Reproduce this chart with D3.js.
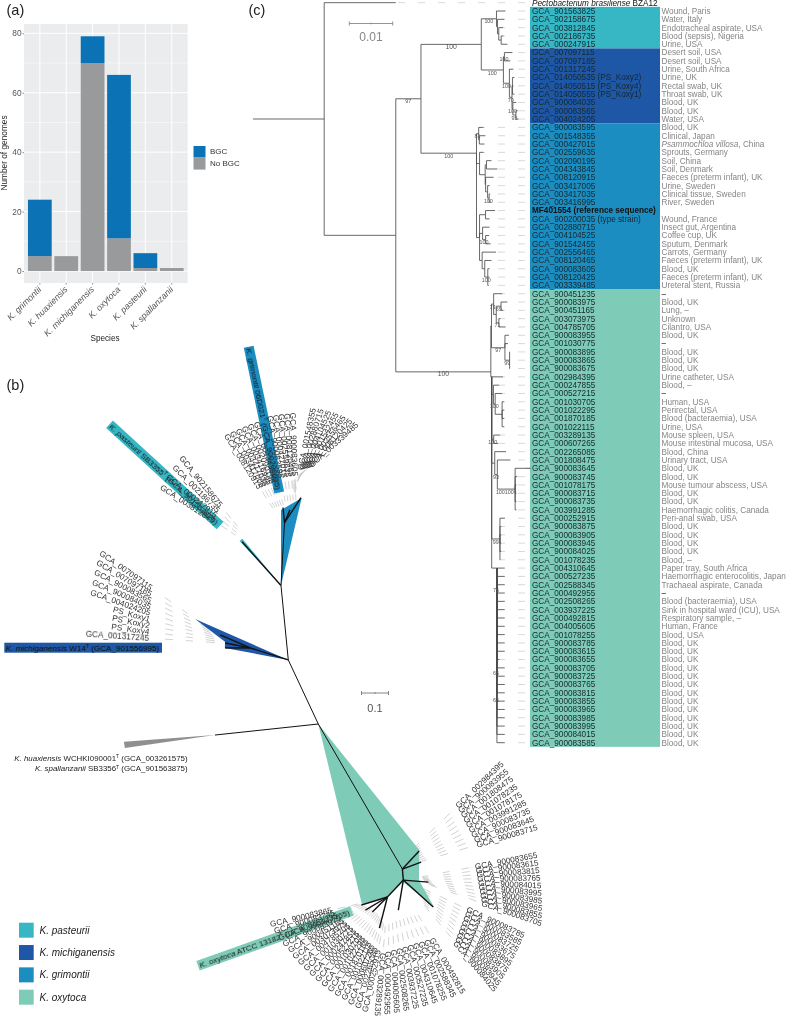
<!DOCTYPE html>
<html><head><meta charset="utf-8">
<script src="https://cdn.jsdelivr.net/npm/d3@7/dist/d3.min.js"></script>
<style>html,body{margin:0;padding:0;background:#fff}svg{display:block;font-family:"Liberation Sans",Arial,sans-serif;filter:blur(.4px)}</style>
</head><body><svg id="c" width="787" height="1021"></svg>
<script>
// ---------- Panel (a) data ----------
const species = ["K. grimontii","K. huaxiensis","K. michiganensis","K. oxytoca","K. pasteurii","K. spallanzanii"];
const noBgc = [5,5,70,11,1,1];
const bgc   = [19,0,9,55,5,0];
const yTicksA = [0,20,40,60,80];

// ---------- Panel (c) data: leaves in row order ----------
const pasteuriiIds = ["GCA_901563825","GCA_902158675","GCA_003812845","GCA_002186735","GCA_000247915"];
const michiganIds = ["GCA_007097115","GCA_007097185","GCA_001317245","GCA_014050535 (PS_Koxy2)","GCA_014050515 (PS_Koxy4)","GCA_014050555 (PS_Koxy1)","GCA_900084035","GCA_900083565","GCA_004024205"];
const grimontiiIds = ["GCA_900083595","GCA_001548355","GCA_000427015","GCA_002559635","GCA_002090195","GCA_004343845","GCA_008120915","GCA_003417005","GCA_003417035","GCA_003416995","MF401554 (reference sequence)","GCA_900200035 (type strain)","GCA_002880715","GCA_004104525","GCA_901542455","GCA_002556465","GCA_008120465","GCA_900083605","GCA_008120425","GCA_003339485"];
const oxytocaIds = ["GCA_900451235","GCA_900083975","GCA_900451165","GCA_003073975","GCA_004785705","GCA_900083955","GCA_001030775","GCA_900083895","GCA_900083865","GCA_900083675","GCA_002984395","GCA_000247855","GCA_000527215","GCA_001030705","GCA_001022295","GCA_001870185","GCA_001022115","GCA_003289135","GCA_000607265","GCA_002265085","GCA_001808475","GCA_900083645","GCA_900083745","GCA_001078175","GCA_900083715","GCA_900083735","GCA_003991285","GCA_000252915","GCA_900083875","GCA_900083905","GCA_900083945","GCA_900084025","GCA_001078235","GCA_004310645","GCA_000527235","GCA_002588345","GCA_000492955","GCA_002508265","GCA_003937225","GCA_000492815","GCA_004005605","GCA_001078255","GCA_900083785","GCA_900083615","GCA_900083655","GCA_900083705","GCA_900083725","GCA_900083765","GCA_900083815","GCA_900083855","GCA_900083965","GCA_900083985","GCA_900083995","GCA_900084015","GCA_900083585"];
const pasteuriiNotes = ["Wound, Paris","Water, Italy","Endotracheal aspirate, USA","Blood (sepsis), Nigeria","Urine, USA"];
const michiganNotes = ["Desert soil, USA","Desert soil, USA","Urine, South Africa","Urine, UK","Rectal swab, UK","Throat swab, UK","Blood, UK","Blood, UK","Water, USA"];
const grimontiiNotes = ["Blood, UK","Clinical, Japan","Psammochloa villosa|, China","Sprouts, Germany","Soil, China","Soil, Denmark","Faeces (preterm infant), UK","Urine, Sweden","Clinical tissue, Sweden","River, Sweden","","Wound, France","Insect gut, Argentina","Coffee cup, UK","Sputum, Denmark","Carrots, Germany","Faeces (preterm infant), UK","Blood, UK","Faeces (preterm infant), UK","Ureteral stent, Russia"];
const oxytocaNotes = ["–","Blood, UK","Lung, –","Unknown","Cilantro, USA","Blood, UK","–","Blood, UK","Blood, UK","Blood, UK","Urine catheter, USA","Blood, –","–","Human, USA","Perirectal, USA","Blood (bacteraemia), USA","Urine, USA","Mouse spleen, USA","Mouse intestinal mucosa, USA","Blood, China","Urinary tract, USA","Blood, UK","Blood, UK","Mouse tumour abscess, USA","Blood, UK","Blood, UK","Haemorrhagic colitis, Canada","Peri-anal swab, USA","Blood, UK","Blood, UK","Blood, UK","Blood, UK","Blood, –","Paper tray, South Africa","Haemorrhagic enterocolitis, Japan","Trachaeal aspirate, Canada","–","Blood (bacteraemia), USA","Sink in hospital ward (ICU), USA","Respiratory sample, –","Human, France","Blood, USA","Blood, UK","Blood, UK","Blood, UK","Blood, UK","Blood, UK","Blood, UK","Blood, UK","Blood, UK","Blood, UK","Blood, UK","Blood, UK","Blood, UK","Blood, UK"];

// Tree (c): [branch length x 0.001, support, children, anchorRow]; a leaf is [branch length]
const L = v => [v];
const pasteuriiClade = [3.5,"100",[L(2.07),[.23,"",[L(1.6),[.3,"",[L(1.0),[.55,"",[L(.55),L(1.45)]]]]]]]];
const michiganClade = [5.1,"100",[
  [.23,"100",[L(1.84),L(1.38)]],
  [1.38,"100",[L(.92),[.6,"70",[[.1,"",[L(.46),L(.23),L(.46)]],[.2,"100",[L(.8),[.7,"95",[L(.4),L(.6)]]]]]]]]]];
const grimontiiClade = [12.8,"100",[
  [.5,"81",[L(1.1),[.15,"",[L(1.4),L(1.15)]]]],
  [.7,"",[L(.92),[1.3,"",[[.3,"",[L(1.15),L(2.5)]],[.1,"",[L(1.84),[.46,"",[L(.46),[.35,"100",[L(.23),L(.35)]]]]]]]]]],
  [.7,"",[[1.38,"",[L(2.2),L(.92)]],[.7,"",[L(1.6),[.7,"100",[L(.8),L(1.15)]]]],[.6,"",[L(3.2),[.6,"",[L(1.55),[.7,"100",[L(.4),L(.4),L(.2)]]]]]]]]
 ],18.1];
const oxytocaUpper = [.15,"",[
  [.5,"73",[L(2.0),[.6,"",[[1.1,"69",[L(1.45),L(.55)]],[.6,"71",[L(.4),L(1.55)]]]]]],
  [3.1,"97",[L(.92),L(.7),[1.08,"99",[L(.07),L(.07),L(.07)]]]]]];
const oxytocaLowerRows = [1.8,1.8,1.8,1.8,1.8,1.8,1.8,1.8,1.8,1.8,1.8,.6,1.8,1.8,1.8,1.8,1.8,1.8,1.8,1.8,1.8,1.8];
const oxytocaLower = [.2,"",[
  L(2.6),
  [.4,"",[L(1.3),[.4,"100",[L(1.6),[1.6,"",[L(.46),L(.46),L(.46),L(.46)]]]]]],
  [.46,"100",[L(1.5),L(1.0)]],
  [.7,"",[L(2.6),[.6,"93",[L(3.0),[1.4,"100",[[2.7,"100",[L(3.6),L(.5),L(.3),L(.3),L(.3),L(.3)]]]]]]]],
  [1.9,"99",[L(1.15),L(.3),L(.3),L(.3),L(.3),L(.1)]],
  [1.2,"",oxytocaLowerRows.map(L),68]
 ],45];
const treeC = [0,"",[[16.4,"",[L(16.5),[16.5,"",[
  [5.8,"97",[[13.9,"100",[pasteuriiClade,michiganClade]],grimontiiClade]],
  [21.9,"100",[oxytocaUpper,oxytocaLower],44.4]]]]]]];
const extraSupportC = [["75",70.6],["65",80.6],["65",83.9]];

// ---------- Panel (b) data ----------
// unrooted tree nodes: [name, parent, angle (deg), branch length]
const nodesB = [["mich","root",-115.1,.262],["gp","mich",-95.6,.277],["oxy","root",59.9,.621],["oxy2","oxy",85,.041],["hs","root",173.9,.385],
 ["grim","gp",-86.8,.233],["g1","grim",-95.7,.056],["g2","grim",-67,.052],["g3","grim",-56.6,.111],["past","gp",-131.7,.217],
 ["m7","mich",-162.5,.148],["m1","m7",-168.7,.094],["m2","m7",180,.093],["m3","m7",-156.6,.121],
 ["o1","oxy",-47.1,.091],["o2","oxy",-20.5,.074],["o3","oxy2",4.6,.093],["o4","oxy2",42,.149],["o5","oxy2",99.5,.113],["o8","oxy2",133.3,.086],
 ["o6","o8",162.9,.101],["o7","o8",149.4,.095],["o9","o8",104.5,.119],["o10","o8",135,.079]];
// collapsed clades: apex node, colour key, outline as [angle, branch length] from apex
const cladesB = [
 ["root","oxytoca",[[51.3,.598],[57.2,.688],[57.7,.802],[61.8,.664],[68.3,.689],[76.4,.686]]],
 ["mich","michiganensis",[[-156.3,.377],[-163.9,.244],[-169.3,.239]]],
 ["gp","grimontii",[[-90,.28],[-76.7,.333]]],
 ["gp","pasteurii",[[-133,.225],[-129.5,.225]]],
 ["hs","outgroup",[[175.8,.338],[171.8,.337]]]];
const fansB = [
 {names:["GCA_007097115","GCA_007097185","GCA_900083565","GCA_900084035","GCA_004024205","PS_Koxy1","PS_Koxy2","PS_Koxy4","GCA_001317245"],from:[151.7,588.3,35],to:[149,638,4],anchor:"end",rings:[[16,24],[37,44],[57,66]]},
 {names:["GCA_008120915","GCA_003417005","GCA_003417035","GCA_003416995","GCA_002090195","GCA_004343845"],from:[260,488,57.6],to:[276,482,72],anchor:"end",rings:[[4,12],[18,24]]},
 {names:["GCA_900083595","GCA_000427015","GCA_002559635","GCA_008120465","GCA_900083605"],from:[281,478,80],to:[295,476,88],anchor:"end",rings:[[4,12],[18,24]]},
 {names:["GCA_001548355","GCA_002880715","GCA_004104525","GCA_901542455","GCA_002556465","GCA_008120425","GCA_003339485"],from:[300,470,-78],to:[310,466,-42],anchor:"start",rings:[[4,12],[18,24]]},
 {names:["GCA_902158675","GCA_002186735","GCA_000247915","GCA_003812845"],from:[221,506,51],to:[214,521,33],anchor:"end",rings:[[8,16],[20,26]]},
 {names:["GCA_002984395","GCA_900083955","GCA_001808475","GCA_001078235","GCA_001078175","GCA_003991285","GCA_900083735","GCA_900083645","GCA_900083715"],from:[456.7,806.7,-44],to:[476.7,845,-16.5],anchor:"start",rings:[[9,18],[30,38],[52,60]]},
 {names:["GCA_900083655","GCA_900083615","GCA_900083815","GCA_900083765","GCA_900084015","GCA_900083995","GCA_900083985","GCA_900083965","GCA_900083855","GCA_900083705"],from:[475,866.7,-10.7],to:[482,903,19],anchor:"start",rings:[[6,14],[26,33],[48,54]]},
 {names:["GCA_900083785","GCA_900083585","GCA_900083725","GCA_900083675","GCA_900083895","GCA_900083875","GCA_900083905","GCA_900083945","GCA_900084025"],from:[467,909,25],to:[455,942,50],anchor:"start",rings:[[6,14],[22,30],[40,48]]},
 {names:["GCA_003289135","GCA_000492955","GCA_004005605","GCA_002508265","GCA_003937225","GCA_000527235","GCA_004310645","GCA_001078255","GCA_002588345","GCA_000492815"],from:[383,953,95],to:[431.7,938.3,60],anchor:"start",rings:[[6,14],[20,27]]},
 {names:["GCA_900083865","GCA_900083745","GCA_900451235","GCA_900083975","GCA_900451165","GCA_003073975","GCA_004785705","GCA_001030775","GCA_000247855","GCA_000527215","GCA_001030705","GCA_001022295","GCA_001870185","GCA_001022115","GCA_000607265","GCA_002265085","GCA_000252915"],from:[331.7,910,-13],to:[378,950,-78],anchor:"end",rings:[[6,14],[20,27]]}
];
const highlightsB = [
 {key:"pasteurii",name:"K. pasteurii",strain:" SB3355",acc:" (GCA_901563825)",x:109.5,y:424.2,angle:42.5,len:150},
 {key:"grimontii",name:"K. grimontii",strain:" 06D021",acc:" (GCA_900200035)",x:248.7,y:346.7,angle:78.2,len:149},
 {key:"michiganensis",name:"K. michiganensis",strain:" W14",acc:" (GCA_901556995)",x:4.3,y:647.7,angle:0,len:157.7},
 {key:"oxytoca",name:"K. oxytoca",strain:" ATCC 13182",acc:" (GCA_900977765)",x:198,y:965.7,angle:-19.6,len:163.5}];
const outgroupLabels = [["K. huaxiensis"," WCHKI090001"," (GCA_003261575)"],["K. spallanzanii"," SB3356"," (GCA_901563875)"]];
const legendKeys = ["pasteurii","michiganensis","grimontii","oxytoca"];
const legendNames = ["K. pasteurii","K. michiganensis","K. grimontii","K. oxytoca"];

const color = {pasteurii:"#37b6c4",michiganensis:"#1e57a6",grimontii:"#1b8dc1",oxytoca:"#7ecbb7",outgroup:"#8f8f8f"};
const svg = d3.select("#c");
const font = "Liberation Sans";
const panelLabel = (t,x,y)=>svg.append("text").attr("x",x).attr("y",y).attr("font-size",14.5).attr("fill","#222").text(t);
panelLabel("(a)",6.5,15); panelLabel("(b)",6.5,390); panelLabel("(c)",248.5,15);

// ---------- Panel (a) ----------
(function(){
 const g = svg.append("g");
 const X0=24,X1=187.6,Y0=283,Ytop=24;
 const x = d3.scaleBand().domain(species).range([X0,X1]).paddingInner(.1).paddingOuter(.15);
 const y = d3.scaleLinear().domain([0,80]).range([271,33.3]);
 g.append("rect").attr("x",X0).attr("y",Ytop).attr("width",X1-X0).attr("height",Y0-Ytop).attr("fill","#ebecee");
 g.selectAll(".mn").data([10,30,50,70]).join("line").attr("class","mn").attr("x1",X0).attr("x2",X1).attr("y1",y).attr("y2",y).attr("stroke","#fff").attr("stroke-width",.5);
 g.selectAll(".mj").data(yTicksA).join("line").attr("class","mj").attr("x1",X0).attr("x2",X1).attr("y1",y).attr("y2",y).attr("stroke","#fff").attr("stroke-width",1);
 g.selectAll(".vg").data(species).join("line").attr("class","vg").attr("x1",d=>x(d)+x.bandwidth()/2).attr("x2",d=>x(d)+x.bandwidth()/2).attr("y1",Ytop).attr("y2",Y0).attr("stroke","#fff").attr("stroke-width",1);
 g.selectAll(".nb").data(species).join("rect").attr("class","nb").attr("x",d=>x(d)).attr("width",x.bandwidth())
  .attr("y",(d,i)=>y(noBgc[i])).attr("height",(d,i)=>y(0)-y(noBgc[i])).attr("fill","#999a9c");
 g.selectAll(".bb").data(species).join("rect").attr("class","bb").attr("x",d=>x(d)).attr("width",x.bandwidth())
  .attr("y",(d,i)=>y(noBgc[i]+bgc[i])).attr("height",(d,i)=>y(noBgc[i])-y(noBgc[i]+bgc[i])).attr("fill","#0b72b5");
 const ay = g.append("g").attr("transform",`translate(${X0},0)`).call(d3.axisLeft(y).tickValues(yTicksA).tickSize(1.5).tickPadding(1));
 ay.select(".domain").remove(); ay.selectAll("text").attr("font-size",8.3).attr("fill","#555").attr("font-family",font);
 ay.selectAll("line").attr("stroke","#444").attr("stroke-width",.6);
 const ax = g.append("g").attr("transform",`translate(0,${Y0})`).call(d3.axisBottom(x).tickSize(1.5).tickPadding(2));
 ax.select(".domain").remove(); ax.selectAll("line").attr("stroke","#444").attr("stroke-width",.6);
 ax.selectAll("text").attr("font-size",8.8).attr("font-style","italic").attr("fill","#555").attr("font-family",font)
   .attr("text-anchor","end").attr("dy",0).attr("y",0).attr("transform","translate(2,7) rotate(-45)");
 g.append("text").attr("x",105).attr("y",341).attr("text-anchor","middle").attr("font-size",8.2).attr("fill","#222").text("Species");
 g.append("text").attr("transform","translate(6.5,153) rotate(-90)").attr("text-anchor","middle").attr("font-size",8.3).attr("fill","#222").text("Number of genomes");
 [["BGC","#0b72b5"],["No BGC","#999a9c"]].forEach((d,i)=>{
  g.append("rect").attr("x",193.5).attr("y",146+i*12).attr("width",12).attr("height",11.6).attr("fill",d[1]);
  g.append("text").attr("x",210).attr("y",154+i*12).attr("font-size",8).attr("fill","#333").text(d[0]);
 });
})();

// ---------- Panel (c) ----------
(function(){
 const g = svg.append("g");
 const branch = d3.scaleLinear().domain([0,.01]).range([0,43.4]);
 const rowY = d3.scaleLinear().domain([1,89]).range([11,742.7]);
 const bandX=530, bandW=130;
 const groups=[["pasteurii",1,5],["michiganensis",6,14],["grimontii",15,34],["oxytoca",35,89]];
 const half=(rowY(2)-rowY(1))/2;
 g.selectAll(".band").data(groups).join("rect").attr("class","band").attr("x",bandX).attr("width",bandW)
  .attr("y",d=>rowY(d[1])-half).attr("height",d=>rowY(d[2])-rowY(d[1])+2*half).attr("fill",d=>color[d[0]]);
 const root = d3.hierarchy(treeC,d=>d[2]);
 root.eachBefore(n=>{n.px=(n.parent?n.parent.px:253)+branch(n.data[0]/1000);});
 root.leaves().forEach((n,i)=>{n.row=i;});
 root.eachAfter(n=>{ if(n.children){const c=n.children; n.row=n.data[3]!==undefined?n.data[3]:(c[0].row+c[c.length-1].row)/2;} n.py=rowY(n.row);});
 g.selectAll(".lead").data(root.leaves()).join("line").attr("class","lead").attr("x1",525).attr("x2",d=>d.px).attr("y1",d=>d.py).attr("y2",d=>d.py)
  .attr("stroke","#cfcfcf").attr("stroke-width",.8).attr("stroke-dasharray","7 13");
 g.selectAll(".link").data(root.links()).join("path").attr("class","link").attr("fill","none").attr("stroke","#4d4d4d").attr("stroke-width",.85)
  .attr("d",d=>`M${d.source.px},${d.source.py}V${d.target.py}H${d.target.px}`);
 const sup = root.descendants().filter(n=>n.data[1]);
 g.selectAll(".sup").data(sup).join("text").attr("class","sup").attr("text-anchor","middle")
  .attr("x",n=>(n.parent.px+n.px)/2).attr("y",n=>n.py+4.6).attr("font-size",n=>n.px-n.parent.px>60?6.8:5.4).attr("fill","#555").text(n=>n.data[1]);
 g.selectAll(".sup2").data(extraSupportC).join("text").attr("class","sup2").attr("x",496).attr("y",d=>rowY(d[1])+2).attr("text-anchor","middle").attr("font-size",5.4).attr("fill","#555").text(d=>d[0]);
 const ids=[...pasteuriiIds,...michiganIds,...grimontiiIds,...oxytocaIds];
 const notes=[...pasteuriiNotes,...michiganNotes,...grimontiiNotes,...oxytocaNotes];
 const top=g.append("text").attr("x",532).attr("y",rowY(0)+2.9).attr("font-size",8.2).attr("fill","#111");
 top.append("tspan").attr("font-style","italic").text("Pectobacterium brasiliense");
 top.append("tspan").text(" BZA12");
 g.selectAll(".id").data(ids).join("text").attr("class","id").attr("x",532).attr("y",(d,i)=>rowY(i+1)+2.9).attr("font-size",8.2)
  .attr("font-weight",d=>d.startsWith("MF")?"bold":"normal").attr("fill",d=>d.startsWith("MF")?"#111":"#16282f").text(d=>d);
 const nt=g.selectAll(".note").data(notes).join("text").attr("class","note").attr("x",661.5).attr("y",(d,i)=>rowY(i+1)+2.9).attr("font-size",8.2)
  .attr("fill",d=>d==="–"?"#222":"#858585");
 nt.each(function(d){const s=d3.select(this); const p=d.split("|");
  if(p.length>1){s.append("tspan").attr("font-style","italic").text(p[0]);s.append("tspan").text(p[1]);} else s.text(d);});
 const sx=349.3, sy=23.5, ex=sx+branch(.01);
 g.append("path").attr("fill","none").attr("stroke","#888").attr("stroke-width",.9)
  .attr("d",`M${sx},${sy-2}V${sy+2}M${sx},${sy}H${ex}M${ex},${sy-2}V${sy+2}M${(sx+ex)/2},${sy-.8}V${sy+.8}`);
 g.append("text").attr("x",(sx+ex)/2).attr("y",40.5).attr("text-anchor","middle").attr("font-size",12).attr("fill","#888").text("0.01");
})();

// ---------- Panel (b) ----------
(function(){
 const g = svg.append("g");
 const lenB = d3.scaleLinear().domain([0,.1]).range([0,27]);
 const rad=a=>a*Math.PI/180;
 const step=(p,a,l)=>[p[0]+lenB(l)*Math.cos(rad(a)),p[1]+lenB(l)*Math.sin(rad(a))];
 const pos={root:[318.3,724]};
 nodesB.forEach(n=>{pos[n[0]]=step(pos[n[1]],n[2],n[3]);});
 const lerp=(a,b,t)=>a+(b-a)*t;
 const labels=[];
 fansB.forEach(f=>f.names.forEach((nm,i)=>{const t=f.names.length>1?i/(f.names.length-1):0;
  labels.push({nm,x:lerp(f.from[0],f.to[0],t),y:lerp(f.from[1],f.to[1],t),a:lerp(f.from[2],f.to[2],t),anchor:f.anchor,rings:f.rings});}));
 const ticks=[];
 labels.forEach(l=>l.rings.forEach(r=>{const s=l.anchor==="end"?1:-1;
  ticks.push([l.x+s*r[0]*Math.cos(rad(l.a)),l.y+s*r[0]*Math.sin(rad(l.a)),l.x+s*r[1]*Math.cos(rad(l.a)),l.y+s*r[1]*Math.sin(rad(l.a))]);}));
 g.selectAll(".tick").data(ticks).join("line").attr("class","tick").attr("x1",d=>d[0]).attr("y1",d=>d[1]).attr("x2",d=>d[2]).attr("y2",d=>d[3]).attr("stroke","#c8c8c8").attr("stroke-width",.8);
 const line=d3.line();
 g.selectAll(".clade").data(cladesB).join("path").attr("class","clade").attr("fill",d=>color[d[1]])
  .attr("d",d=>{const a=pos[d[0]]; return line([a,...d[2].map(v=>step(a,v[0],v[1]))])+"Z";});
 g.selectAll(".edge").data(nodesB).join("line").attr("class","edge").attr("stroke","#111").attr("stroke-width",d=>["grim","mich","gp","oxy","hs"].includes(d[0])?1:1.4)
  .attr("x1",d=>pos[d[1]][0]).attr("y1",d=>pos[d[1]][1]).attr("x2",d=>pos[d[0]][0]).attr("y2",d=>pos[d[0]][1]);
 const hl=g.selectAll(".hl").data(highlightsB).join("g").attr("class","hl").attr("transform",d=>`translate(${d.x},${d.y}) rotate(${d.angle})`);
 hl.append("rect").attr("x",0).attr("y",-5).attr("height",10).attr("width",d=>d.len).attr("fill",d=>color[d.key]);
 g.selectAll(".fl").data(labels).join("text").attr("class","fl").attr("font-size",8.2).attr("fill","#333").attr("text-anchor",d=>d.anchor)
  .attr("transform",d=>`translate(${d.x},${d.y}) rotate(${d.a})`).attr("dy",2.8).text(d=>d.nm);
 const rich=(sel,d)=>{ sel.append("tspan").attr("font-style","italic").text(d[0]); sel.append("tspan").text(d[1]);
  sel.append("tspan").attr("font-size",5).attr("dy",-2.6).text("T"); sel.append("tspan").attr("dy",2.6).text(d[2]); };
 hl.append("text").attr("x",1.5).attr("y",2.9).attr("font-size",8.1).attr("fill","#111").each(function(d){rich(d3.select(this),[d.name,d.strain,d.acc]);});
 outgroupLabels.forEach((d,i)=>{ rich(g.append("text").attr("x",187.6).attr("y",760.5+i*10.6).attr("text-anchor","end").attr("font-size",7.9).attr("fill","#222"),d); });
 const sx=361.5, sy=693, ex=sx+lenB(.1);
 g.append("path").attr("fill","none").attr("stroke","#777").attr("stroke-width",.9)
  .attr("d",`M${sx},${sy-2}V${sy+2}M${sx},${sy}H${ex}M${ex},${sy-2}V${sy+2}M${(sx+ex)/2},${sy-.8}V${sy+.8}`);
 g.append("text").attr("x",(sx+ex)/2).attr("y",712).attr("text-anchor","middle").attr("font-size",11).attr("fill","#555").text("0.1");
 const ly=d3.scaleBand().domain(legendKeys).range([922.7,1006]).paddingInner(.27).paddingOuter(0);
 g.selectAll(".lg").data(legendKeys).join("rect").attr("class","lg").attr("x",19).attr("width",14.7).attr("y",d=>ly(d)).attr("height",15).attr("fill",d=>color[d]);
 g.selectAll(".lt").data(legendKeys).join("text").attr("class","lt").attr("x",39.5).attr("y",d=>ly(d)+11).attr("font-size",10).attr("font-style","italic").attr("fill","#222").text((d,i)=>legendNames[i]);
})();
</script></body></html>
